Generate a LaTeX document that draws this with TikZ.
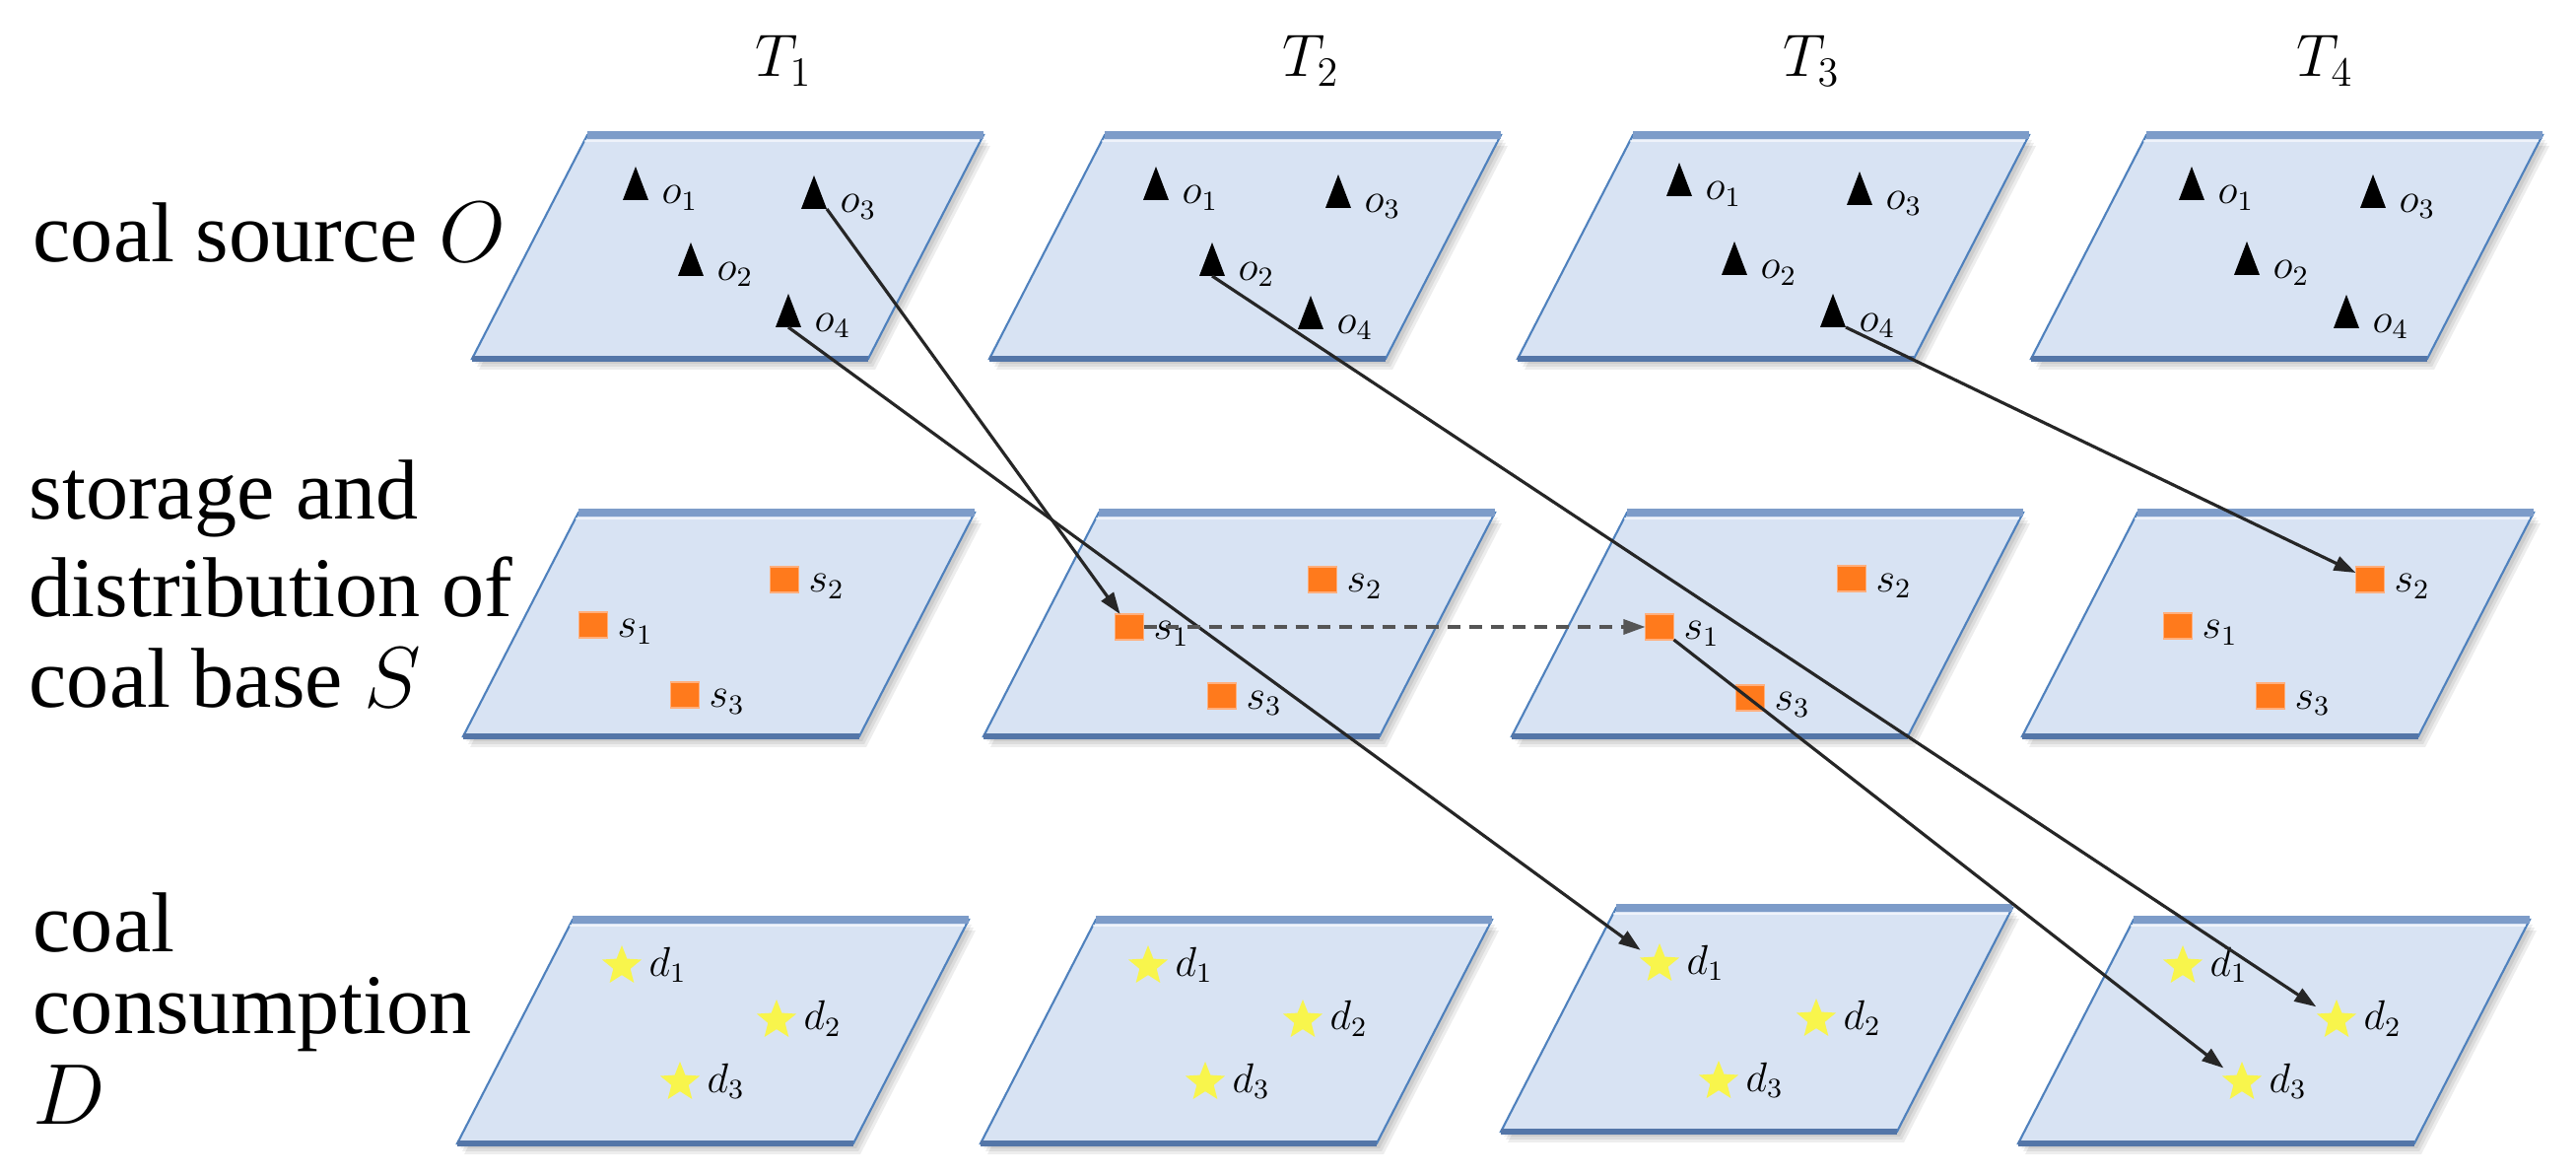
\documentclass[tikz,border=0pt]{standalone}
\usepackage{fontspec}
\setmainfont{Liberation Serif}
\usetikzlibrary{shapes.geometric,arrows.meta}
\definecolor{panelfill}{RGB}{216,227,243}
\definecolor{paneledge}{RGB}{79,129,189}
\definecolor{paneltop}{RGB}{125,156,201}
\definecolor{panelbot}{RGB}{84,118,168}
\definecolor{sqorange}{RGB}{255,122,28}
\definecolor{sqedge}{RGB}{255,175,125}
\definecolor{staryellow}{RGB}{248,245,76}
\definecolor{arrowc}{RGB}{38,38,38}
\definecolor{dashc}{RGB}{85,85,85}
\tikzset{
  markbox/.style={inner sep=0pt, outer sep=0pt, minimum width=2.6mm, minimum height=3.4mm},
  sqbox/.style={rectangle, fill=sqorange, draw=sqedge, line width=0.4pt, inner sep=0pt, outer sep=0pt, minimum width=2.9mm, minimum height=2.6mm},
  starbox/.style={star, star points=5, star point ratio=2.3, fill=staryellow, inner sep=0pt, outer sep=0pt, minimum size=4.2mm},
  mlab/.style={anchor=base west, inner sep=0pt, font=\fontsize{12}{14}\selectfont},
  rowlab/.style={anchor=base west, inner sep=0pt, font=\fontsize{24.5}{28}\selectfont},
  tlab/.style={anchor=base west, inner sep=0pt, font=\fontsize{18}{20}\selectfont},
  conn/.style={draw=arrowc, line width=0.9pt, -{Triangle[length=2.2mm,width=1.5mm]}},
  dconn/.style={draw=dashc, line width=0.9pt, dash pattern=on 1.3mm off 0.9mm, -{Triangle[length=2.2mm,width=1.5mm]}}
}
\newcommand{\drawpanel}[2]{%
  \foreach \dx/\dy in {3/5,5/8,7/11}{\fill[black,opacity=0.07] (#1+\dx,#2+\dy) -- ++(402,0) -- ++(-117,227) -- ++(-402,0) -- cycle;}
  \fill[panelfill] (#1,#2) -- ++(402,0) -- ++(-117,227) -- ++(-402,0) -- cycle;
  \draw[paneledge, line width=0.6pt] (#1,#2) -- ++(402,0) -- ++(-117,227) -- ++(-402,0) -- cycle;
  \draw[paneltop, line width=2.4pt] (#1,#2) -- ++(402,0);
  \draw[white, opacity=0.6, line width=0.8pt] (#1-3,#2+6) -- ++(401,0);
  \draw[panelbot, line width=1.8pt] (#1-117,#2+227) -- ++(402,0);
}
\newcommand{\mkTri}[4]{%
  \node[markbox] (#1) at (#2,#3) {};
  \fill[black] (#1.south west) -- (#1.south east) -- (#1.north) -- cycle;
  \node[mlab] (#1l) at ([xshift=2.6mm,yshift=-2.1mm]#1.center) {$o_{#4}$};
}
\newcommand{\mkSq}[4]{%
  \node[sqbox] (#1) at (#2,#3) {};
  \node[mlab] (#1l) at ([xshift=2.4mm,yshift=-1.3mm]#1.center) {$s_{#4}$};
}
\newcommand{\mkStar}[4]{%
  \node[starbox] (#1) at (#2,#3) {};
  \node[mlab] (#1l) at ([xshift=2.7mm,yshift=-1.0mm]#1.center) {$d_{#4}$};
}
\begin{document}
\begin{tikzpicture}[x=0.01cm, y=-0.01cm]
\useasboundingbox (0,0) rectangle (2614,1192);
% panels
\drawpanel{596}{137}\drawpanel{1121}{137}\drawpanel{1657}{137}\drawpanel{2178}{137}
\drawpanel{587}{520}\drawpanel{1115}{520}\drawpanel{1651}{520}\drawpanel{2169}{520}
\drawpanel{581}{933}\drawpanel{1112}{933}\drawpanel{1640}{921}\drawpanel{2165}{933}
% column titles
\node[tlab] (T1) at (766,78) {$T_1$};
\node[tlab] (T2) at (1301,78) {$T_2$};
\node[tlab] (T3) at (1809,78) {$T_3$};
\node[tlab] (T4) at (2330,78) {$T_4$};
% row titles
\node[rowlab] (rO) at (33,266) {coal source $O$};
\node[rowlab] (rS1) at (29,527) {storage and};
\node[rowlab] (rS2) at (29,626) {distribution of};
\node[rowlab] (rS3) at (29,718) {coal base $S$};
\node[rowlab] (rD1) at (33,966) {coal};
\node[rowlab] (rD2) at (33,1049) {consumption};
\node[rowlab] (rD3) at (33,1141) {$D$};
% coal sources
\mkTri{o1p1}{645}{186}{1}\mkTri{o3p1}{826}{195}{3}\mkTri{o2p1}{701}{263}{2}\mkTri{o4p1}{800}{315}{4}
\mkTri{o1p2}{1173}{186}{1}\mkTri{o3p2}{1358}{194}{3}\mkTri{o2p2}{1230}{263}{2}\mkTri{o4p2}{1330}{317}{4}
\mkTri{o1p3}{1704}{182}{1}\mkTri{o3p3}{1887}{191}{3}\mkTri{o2p3}{1760}{262}{2}\mkTri{o4p3}{1860}{315}{4}
\mkTri{o1p4}{2224}{186}{1}\mkTri{o3p4}{2408}{194}{3}\mkTri{o2p4}{2280}{262}{2}\mkTri{o4p4}{2381}{316}{4}
% storage bases
\mkSq{s1p1}{602}{634}{1}\mkSq{s2p1}{796}{588}{2}\mkSq{s3p1}{695}{705}{3}
\mkSq{s1p2}{1146}{636}{1}\mkSq{s2p2}{1342}{588}{2}\mkSq{s3p2}{1240}{706}{3}
\mkSq{s1p3}{1684}{636}{1}\mkSq{s2p3}{1879}{587}{2}\mkSq{s3p3}{1776}{708}{3}
\mkSq{s1p4}{2210}{635}{1}\mkSq{s2p4}{2405}{588}{2}\mkSq{s3p4}{2304}{706}{3}
% consumers
\mkStar{d1p1}{631}{980}{1}\mkStar{d2p1}{788}{1035}{2}\mkStar{d3p1}{690}{1098}{3}
\mkStar{d1p2}{1165}{980}{1}\mkStar{d2p2}{1322}{1035}{2}\mkStar{d3p2}{1223}{1098}{3}
\mkStar{d1p3}{1684}{978}{1}\mkStar{d2p3}{1843}{1034}{2}\mkStar{d3p3}{1744}{1097}{3}
\mkStar{d1p4}{2215}{980}{1}\mkStar{d2p4}{2371}{1035}{2}\mkStar{d3p4}{2275}{1098}{3}
% flows
\draw[conn] (o3p1.south east) -- (s1p2);
\draw[conn, shorten >=1.2mm] (o4p1.south) -- (d1p3);
\draw[conn, shorten >=1.2mm] (o2p2.south) -- (d2p4);
\draw[conn] (o4p3.south east) -- (s2p4);
\draw[dconn] (s1p2.east) -- (s1p3.west);
\draw[conn, shorten >=1.2mm] (s1p3.south east) -- (d3p4);
\end{tikzpicture}
\end{document}
